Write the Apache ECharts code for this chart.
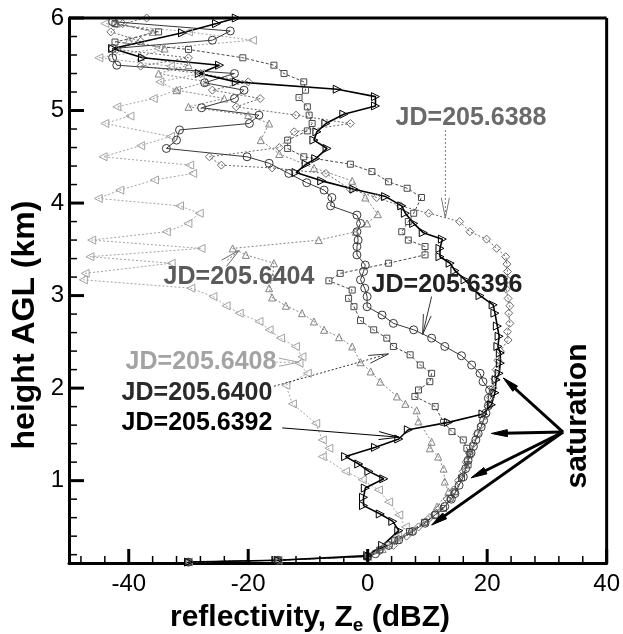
<!DOCTYPE html>
<html><head><meta charset="utf-8">
<script src="https://cdn.jsdelivr.net/npm/echarts@6/dist/echarts.min.js"></script>
<style>html,body{margin:0;padding:0;background:#fff}#c{width:623px;height:634px}</style>
</head><body><div id="c"></div>
<script>
// ---- tick values ----
const xMajor = [-40, -20, 0, 20, 40];
const xMinor = [-48, -44, -36, -32, -28, -24, -16, -12, -8, -4, 4, 8, 12, 16, 24, 28, 32, 36];
const yMajor = [1, 2, 3, 4, 5, 6];
const yMinor = [0.2, 0.4, 0.6, 0.8, 1.2, 1.4, 1.6, 1.8, 2.2, 2.4, 2.6, 2.8, 3.2, 3.4, 3.6, 3.8, 4.2, 4.4, 4.6, 4.8, 5.2, 5.4, 5.6, 5.8];

// ---- profiles: [reflectivity dBZ, height km] ----
const jd6388 = [[-30,0.12],[-15,0.14],[0,0.18],[2,0.24],[4.3,0.3],[6.5,0.4],[8.5,0.5],[10.4,0.6],[12,0.7],[13.3,0.8],[14.4,0.9],[15.2,1.0],[16,1.1],[16.5,1.2],[17,1.3],[17.7,1.4],[18.3,1.5],[19,1.6],[19.6,1.7],[20.2,1.8],[20.6,1.9],[21,2.0],[21.3,2.1],[21.5,2.2],[21.8,2.3],[22.2,2.4],[23.5,2.52],[23.4,2.61],[23.8,2.7],[23.6,2.81],[23.8,2.89],[23.5,2.97],[23.2,3.07],[23.4,3.17],[23.4,3.26],[23.3,3.34],[23.1,3.42],[21.6,3.51],[19.9,3.61],[17.1,3.69],[15.4,3.8],[10.2,3.89],[5.5,3.97],[1.5,4.06],[-2.9,4.15],[-7,4.32],[-16,4.38],[-24.5,4.41],[-26.5,4.5],[-14.8,4.6],[-12.3,4.77],[-2.9,4.86],[-12,4.95],[-22,5.04],[-18,5.13],[-26,5.22],[-20,5.31],[-28,5.4],[-38,5.48],[-30,5.57],[-42,5.66],[-38,5.75],[-43,5.85],[-41,5.94],[-37,6.0]];
const jd6392 = [[-30,0.12],[-15,0.14],[0,0.19],[2.5,0.3],[5.2,0.46],[4.2,0.56],[2.1,0.64],[-0.7,0.73],[-0.7,0.82],[-0.4,0.92],[2.7,1.02],[0.2,1.1],[-1.5,1.18],[-3.7,1.26],[1.3,1.36],[5.2,1.45],[6.8,1.55],[13.5,1.63],[19.3,1.72],[20.7,1.82],[21.3,1.95],[21.5,2.09],[22,2.16],[22.2,2.27],[22.2,2.38],[21.8,2.45],[22,2.56],[21.7,2.67],[21.3,2.81],[21,2.9],[18.8,3.0],[16.3,3.17],[14.6,3.27],[13.8,3.35],[12.1,3.42],[12.1,3.51],[12.5,3.61],[9.3,3.68],[7.7,3.78],[6.3,3.89],[5.7,3.97],[3,4.07],[-2.3,4.15],[-7.7,4.24],[-12,4.33],[-10.3,4.42],[-8.7,4.48],[-6.8,4.59],[-9,4.68],[-8.5,4.77],[-7,4.86],[-4,4.96],[1.3,5.05],[1.3,5.15],[-5.1,5.23],[-22,5.31],[-28.2,5.4],[-24.8,5.49],[-37.7,5.57],[-42.7,5.67],[-31,5.84],[-25.3,5.94],[-22,6.0]];
const jd6396 = [[-30,0.12],[-15,0.14],[0,0.18],[1.3,0.21],[3.5,0.3],[5.2,0.36],[7.5,0.45],[9.6,0.54],[11.3,0.63],[12.9,0.72],[14,0.8],[14.6,0.86],[15.3,0.95],[16,1.04],[16.4,1.13],[16.8,1.22],[17.3,1.3],[17.7,1.37],[18.1,1.44],[18.5,1.51],[19,1.58],[19.4,1.65],[19.8,1.73],[20.2,1.81],[20.2,1.89],[20.4,1.98],[19.3,2.07],[18.8,2.16],[17.4,2.25],[15.7,2.35],[12.9,2.45],[10.7,2.54],[7.7,2.63],[4.3,2.7],[2.4,2.79],[-0.1,2.88],[-0.1,2.99],[-0.5,3.08],[-1.2,3.17],[-0.7,3.26],[-0.4,3.33],[-1.8,3.44],[-1.8,3.53],[-1.6,3.6],[-1.8,3.69],[-1.2,3.78],[-1.8,3.87],[-6.2,3.97],[-6,4.06],[-7.3,4.14],[-10.2,4.22],[-13.2,4.32],[-16.5,4.43],[-20.2,4.5],[-33.7,4.59],[-32,4.68],[-31.5,4.79],[-19.8,4.86],[-18.2,4.95],[-27.8,5.03],[-22.3,5.13],[-20.7,5.22],[-27.3,5.3],[-22.3,5.4],[-42,5.49],[-42.7,5.57],[-42.7,5.67],[-26,5.76],[-23,5.86],[-42.7,5.96]];
const jd6400 = [[-30,0.12],[-15,0.14],[0,0.18],[2,0.25],[4.5,0.35],[7,0.45],[9.5,0.55],[11.3,0.63],[12.7,0.7],[13.8,0.81],[14.6,0.88],[15.7,1.03],[16.8,1.17],[17.1,1.28],[16.6,1.35],[16,1.44],[14.1,1.53],[12.7,1.63],[11.3,1.8],[7.9,1.91],[8.5,1.98],[10.4,2.07],[10.7,2.16],[8.8,2.25],[7.1,2.36],[4.3,2.45],[3.2,2.54],[1,2.63],[-1.2,2.73],[-2.3,2.88],[-3.2,2.97],[-2.6,3.06],[-6.5,3.16],[-4.6,3.24],[3.5,3.35],[9.6,3.44],[9.6,3.53],[6.8,3.6],[5.7,3.69],[6.8,3.8],[7.7,3.89],[9,4.06],[6.6,4.16],[3.5,4.23],[0.7,4.34],[-2.9,4.42],[-10.7,4.5],[-13.4,4.59],[-13.4,4.68],[-10.1,4.78],[-9.3,4.86],[-9.8,4.95],[-10.1,5.04],[-11.5,5.14],[-10.4,5.22],[-10.7,5.31],[-14,5.4],[-15.7,5.49],[-20.9,5.57],[-30,5.66],[-42.3,5.74],[-35,5.85],[-42.3,5.94]];
const jd6404 = [[-30,0.12],[-15,0.14],[0,0.18],[2.5,0.26],[5,0.36],[7.5,0.46],[9.6,0.56],[11.6,0.72],[13.5,0.88],[12.9,0.99],[12.7,1.13],[11.8,1.26],[10.4,1.35],[10.7,1.42],[8.5,1.64],[8.2,1.76],[6.3,1.83],[4.9,1.91],[2.1,2.07],[0.5,2.18],[-1.2,2.28],[-2.6,2.45],[-4.8,2.55],[-7.3,2.63],[-9,2.72],[-11,2.81],[-13.7,2.89],[-16,2.98],[-16.5,3.08],[-15.9,3.2],[-15.7,3.35],[-20.4,3.44],[-22.6,3.51],[-8.2,3.6],[-2,3.69],[-0.1,3.78],[1.7,3.88],[-0.4,4.06],[-2.6,4.24],[-9,4.38],[-14.8,4.53],[-17.9,4.68],[-16.5,4.86],[-20,4.95],[-30,5.04],[-24,5.13],[-32,5.22],[-27,5.31],[-35,5.4],[-30,5.49],[-38,5.58],[-34,5.67],[-40,5.76],[-36,5.85],[-42,5.94]];
const jd6408 = [[-30,0.12],[-15,0.14],[0,0.18],[3,0.3],[5,0.4],[6.3,0.5],[5.2,0.63],[3.5,0.77],[1.8,0.9],[-0.9,1.01],[-3.7,1.1],[-7.6,1.26],[-6.5,1.35],[-7.6,1.44],[-8.7,1.62],[-12.6,1.83],[-13.7,2.03],[-10.1,2.16],[-11.5,2.27],[-11,2.34],[-12.1,2.45],[-14.6,2.54],[-16.5,2.63],[-18.2,2.72],[-21.5,2.81],[-23.7,2.89],[-25.9,2.99],[-29.6,3.08],[-47.6,3.17],[-47.3,3.24],[-32.9,3.35],[-46.5,3.42],[-27.9,3.51],[-46.2,3.6],[-33.7,3.69],[-30.1,3.78],[-28.2,3.89],[-31.5,3.97],[-45.1,4.05],[-41.5,4.14],[-35.7,4.25],[-29.3,4.32],[-29.8,4.41],[-44.3,4.5],[-38,4.62],[-33,4.72],[-44,4.86],[-39.8,4.94],[-42,5.04],[-35.9,5.13],[-32,5.22],[-34.8,5.31],[-28,5.4],[-33,5.48],[-45,5.57],[-35,5.67],[-19.3,5.76],[-30,5.85],[-44,5.94]];

// ---- annotations (data coordinates) ----
const labels = ['JD=205.6388', 'JD=205.6404', 'JD=205.6396', 'JD=205.6408', 'JD=205.6400', 'JD=205.6392'];
const labelArrowFrom = [[13, 4.79], [-23.5, 3.38], [10.7, 2.99], [-15.4, 2.28], [-15.7, 2.02], [-14.3, 1.57]];
const labelArrowTo = [[13, 3.84], [-21.5, 3.49], [9.2, 2.58], [-11.5, 2.28], [3.5, 2.37], [5.2, 1.47]];
const satText = 'saturation';
const satFrom = [32.7, 1.525];
const satTo = [[22.7, 2.11], [20.7, 1.51], [17.3, 1.03], [10.7, 0.52]];

const X_MIN = -50, X_MAX = 40, Y_MIN = 0.11, Y_MAX = 6;
const FONT = '"Liberation Sans", Arial, Helvetica, sans-serif';
const chart = echarts.init(document.getElementById('c'));

function prof(name, data, symbol, size, color, lineType, width, rotate) {
  return {
    type: 'line', name: name, data: data, symbol: symbol, symbolSize: size, symbolRotate: rotate || 0,
    showSymbol: true, showAllSymbol: true, animation: false, z: 3,
    lineStyle: { color: color, width: width, type: lineType },
    itemStyle: { color: 'rgba(255,255,255,0)', borderColor: color, borderWidth: 1 },
    emphasis: { disabled: true }
  };
}

const tickFont = { fontFamily: FONT, fontSize: 24, color: '#000' };
chart.setOption({
  animation: false,
  grid: { left: 69, right: 14, top: 18, bottom: 71, show: false },
  xAxis: [
    { type: 'value', min: X_MIN, max: X_MAX, position: 'bottom',
      axisLine: { show: true, onZero: false, lineStyle: { color: '#000', width: 3 } },
      axisTick: { show: false },
      axisLabel: Object.assign({ show: true, margin: 9, customValues: xMajor }, tickFont),
      splitLine: { show: false } }
  ],
  yAxis: [
    { type: 'value', min: Y_MIN, max: Y_MAX, position: 'left',
      axisLine: { show: true, onZero: false, lineStyle: { color: '#000', width: 3 } },
      axisTick: { show: false },
      axisLabel: Object.assign({ show: true, margin: 5, customValues: yMajor }, tickFont),
      splitLine: { show: false } }
  ],
  series: [
    prof('JD=205.6408', jd6408, 'triangle', 8, '#a3a3a3', [2, 2], 1, 90),
    prof('JD=205.6404', jd6404, 'triangle', 7, '#858585', [2, 2], 1, 0),
    prof('JD=205.6388', jd6388, 'diamond', 8, '#6a6a6a', [2, 2], 1, 0),
    prof('JD=205.6400', jd6400, 'rect', 6, '#4a4a4a', [3, 2], 1, 0),
    prof('JD=205.6396', jd6396, 'circle', 8, '#383838', 'solid', 1, 0),
    prof('JD=205.6392', jd6392, 'triangle', 8, '#000000', 'solid', 1.6, -90)
  ]
});

// ---- frame, ticks & annotations (positions through the chart's own scales) ----
const P = (v) => chart.convertToPixel({ xAxisIndex: 0, yAxisIndex: 0 }, v);
const g = [];
const tl = P([X_MIN, Y_MAX]), br = P([X_MAX, Y_MIN]);
g.push({ type: 'line', z: 8, shape: { x1: tl[0], y1: tl[1], x2: br[0], y2: tl[1] }, style: { stroke: '#000', lineWidth: 3 } });
g.push({ type: 'line', z: 8, shape: { x1: br[0], y1: tl[1], x2: br[0], y2: br[1] }, style: { stroke: '#000', lineWidth: 3 } });
xMajor.forEach(v => { const p = P([v, Y_MIN]); g.push({ type: 'line', z: 8, shape: { x1: p[0], y1: p[1], x2: p[0], y2: p[1] - 14 }, style: { stroke: '#000', lineWidth: 3 } }); });
xMinor.forEach(v => { const p = P([v, Y_MIN]); g.push({ type: 'line', z: 8, shape: { x1: p[0], y1: p[1], x2: p[0], y2: p[1] - 7 }, style: { stroke: '#000', lineWidth: 1.5 } }); });
yMajor.forEach(v => { const p = P([X_MIN, v]); g.push({ type: 'line', z: 8, shape: { x1: p[0], y1: p[1], x2: p[0] + 15, y2: p[1] }, style: { stroke: '#000', lineWidth: 3 } }); });
yMinor.forEach(v => { const p = P([X_MIN, v]); g.push({ type: 'line', z: 8, shape: { x1: p[0], y1: p[1], x2: p[0] + 8, y2: p[1] }, style: { stroke: '#000', lineWidth: 1.5 } }); });

function head(tip, from, len, half) {
  const dx = tip[0] - from[0], dy = tip[1] - from[1], d = Math.hypot(dx, dy);
  const ux = dx / d, uy = dy / d, bx = tip[0] - ux * len, by = tip[1] - uy * len;
  return [[bx - uy * half, by + ux * half], tip, [bx + uy * half, by - ux * half]];
}
const labelPos = [[471, 118], [239, 277], [447, 285], [201, 362], [197, 393], [197, 423]];
const labelColor = ['#6a6a6a', '#5a5a5a', '#222222', '#a3a3a3', '#2a2a2a', '#000000'];
const arrowColor = ['#777777', '#6a6a6a', '#333333', '#a3a3a3', '#333333', '#000000'];
const arrowDash = [[2, 2], [2, 2], 'solid', [2, 2], [2, 2], 'solid'];
labels.forEach((t, i) => {
  g.push({ type: 'text', x: labelPos[i][0], y: labelPos[i][1], z: 10,
    style: { text: t, fill: labelColor[i], font: 'bold 25px ' + FONT, textAlign: 'center', textVerticalAlign: 'middle' } });
  const a = P(labelArrowFrom[i]), b = P(labelArrowTo[i]);
  g.push({ type: 'line', z: 10, shape: { x1: a[0], y1: a[1], x2: b[0], y2: b[1] },
    style: { stroke: arrowColor[i], lineWidth: 1, lineDash: arrowDash[i] === 'solid' ? null : arrowDash[i] } });
  g.push({ type: 'polyline', z: 10, shape: { points: head(b, a, 20, 4) },
    style: { stroke: arrowColor[i], lineWidth: 1, fill: null } });
});
// saturation arrows
const s0 = P(satFrom);
satTo.forEach((t) => {
  const b = P(t);
  const h = head(b, s0, 16, 3.5);
  const dx = b[0] - s0[0], dy = b[1] - s0[1], d = Math.hypot(dx, dy);
  const e = [b[0] - dx / d * 12, b[1] - dy / d * 12];
  g.push({ type: 'line', z: 10, shape: { x1: s0[0], y1: s0[1], x2: e[0], y2: e[1] },
    style: { stroke: '#000', lineWidth: 3 } });
  g.push({ type: 'polygon', z: 10, shape: { points: h }, style: { fill: '#000', stroke: '#000', lineWidth: 1 } });
});
g.push({ type: 'text', x: 578, y: 416, rotation: Math.PI / 2, z: 10,
  style: { text: satText, fill: '#000', font: 'bold 30px ' + FONT, textAlign: 'center', textVerticalAlign: 'middle' } });
// axis titles
g.push({ type: 'text', x: 310, y: 618, z: 10,
  style: { text: '{a|reflectivity, Z}{s|e}{a| (dBZ)}', textAlign: 'center', textVerticalAlign: 'middle',
    rich: { a: { fontFamily: FONT, fontWeight: 'bold', fontSize: 30, lineHeight: 34, fill: '#000' },
            s: { fontFamily: FONT, fontWeight: 'bold', fontSize: 19, lineHeight: 19, verticalAlign: 'bottom', fill: '#000' } } } });
g.push({ type: 'text', x: 25, y: 325, rotation: Math.PI / 2, z: 10,
  style: { text: 'height AGL (km)', fill: '#000', font: 'bold 32px ' + FONT, textAlign: 'center', textVerticalAlign: 'middle' } });
chart.setOption({ graphic: g });
</script>
</body></html>
